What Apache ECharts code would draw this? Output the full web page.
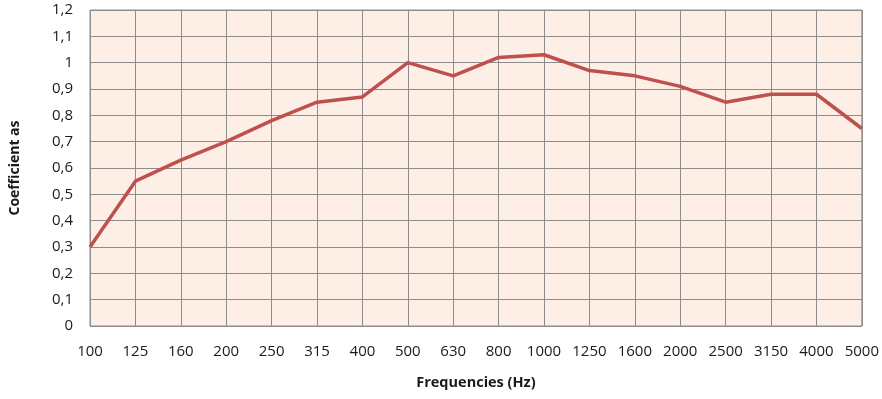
<!DOCTYPE html>
<html>
<head>
<meta charset="utf-8">
<script src="https://cdn.jsdelivr.net/npm/echarts@6/dist/echarts.min.js"></script>
<style>
  html, body { margin: 0; padding: 0; background: #ffffff; }
  #chart { width: 882px; height: 399px; }
</style>
</head>
<body>
<div id="chart"></div>
<script>
// Third-octave band centre frequencies (Hz)
const frequencies = ['100', '125', '160', '200', '250', '315', '400', '500', '630', '800',
  '1000', '1250', '1600', '2000', '2500', '3150', '4000', '5000'];
// Sound absorption coefficient per band
const absorption = [0.30, 0.55, 0.63, 0.70, 0.78, 0.85, 0.87, 1.00, 0.95, 1.02,
  1.03, 0.97, 0.95, 0.91, 0.85, 0.88, 0.88, 0.75];
const yMin = 0, yMax = 1.2, yStep = 0.1;

const font = 'Open Sans';
const chart = echarts.init(document.getElementById('chart'));
chart.setOption({
  backgroundColor: '#ffffff',
  animation: false,
  grid: { left: 89, right: 18, top: 10, bottom: 73, show: true,
    backgroundColor: '#fdefe5', borderColor: '#8c8c8c', borderWidth: 1 },
  xAxis: {
    type: 'category', data: frequencies, boundaryGap: false,
    name: 'Frequencies (Hz)', nameLocation: 'middle', nameGap: 49,
    nameTextStyle: { fontFamily: font, fontWeight: 'bold', fontSize: 14.5, color: '#1a1a1a' },
    axisLine: { show: false }, axisTick: { show: false },
    axisLabel: { fontFamily: font, fontSize: 15, color: '#1a1a1a', margin: 18, interval: 0 },
    splitLine: { show: true, lineStyle: { color: '#8c8c8c', width: 1 } }
  },
  yAxis: {
    type: 'value', min: yMin, max: yMax, interval: yStep,
    name: 'Coefficient as', nameLocation: 'middle', nameGap: 68,
    nameTextStyle: { fontFamily: font, fontWeight: 'bold', fontSize: 14, color: '#1a1a1a' },
    axisLine: { show: false }, axisTick: { show: false },
    axisLabel: { fontFamily: font, fontSize: 15, color: '#1a1a1a', margin: 17,
      formatter: v => String(Math.round(v * 10) / 10).replace('.', ',') },
    splitLine: { show: true, lineStyle: { color: '#8c8c8c', width: 1 } }
  },
  series: [{
    type: 'line', data: absorption, symbol: 'none',
    lineStyle: { color: '#c0504d', width: 3.5 }
  }]
});
</script>
</body>
</html>
